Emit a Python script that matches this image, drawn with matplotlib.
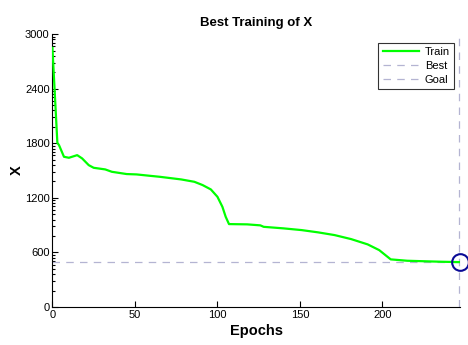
import numpy as np
import matplotlib
matplotlib.use("Agg")
import matplotlib.pyplot as plt
from matplotlib.ticker import FixedLocator

plt.rcParams['font.family'] = ['Liberation Sans', 'DejaVu Sans']

# training curve
epochs = [0, 3, 4, 7, 10, 15, 18, 22, 25, 32, 36, 45, 51, 59, 65, 78, 86, 91,
          96, 100, 103, 105, 107, 118, 126, 128, 140, 151, 161, 171, 181, 191,
          198, 205, 215, 228, 236, 247]
train = [2850, 1805, 1780, 1652, 1641, 1670, 1634, 1560, 1531, 1513, 1487,
         1462, 1458, 1443, 1432, 1403, 1377, 1341, 1293, 1212, 1102, 992, 912,
         909, 898, 882, 865, 846, 821, 791, 747, 689, 626, 524, 509, 502, 498, 494]
best_epoch = 247
best_value = 494
goal = 492
y_ticks = [0, 600, 1200, 1800, 2400, 3000]
x_ticks = [0, 50, 100, 150, 200]

fig = plt.figure(figsize=(4.68, 3.45), dpi=100)
ax = fig.add_axes([0.112, 0.110, 0.871, 0.791])

dash_col = '#b4b4d2'
ax.plot(epochs, train, color='#00ff00', lw=1.6, label='Train', zorder=3)
ax.axvline(best_epoch - 0.6, color=dash_col, lw=0.9, ls=(0, (6, 5)),
           label='Best', clip_on=False)
ax.axhline(goal, color=dash_col, lw=0.9, ls=(0, (6, 5)), label='Goal')
ax.plot([best_epoch], [best_value], 'o', ms=12, mfc='none', mec='#0a0a96',
        mew=1.5, clip_on=False, zorder=4)

ax.set_xlim(0, best_epoch)
ax.set_ylim(0, 3000)
ax.set_xticks(x_ticks)
ax.set_yticks(y_ticks)

# minor ticks spaced like a log decade inside each major step
step = y_ticks[1] - y_ticks[0]
minor = [b + step * np.log10(k) for b in y_ticks[:-1] for k in range(2, 10)]
ax.yaxis.set_minor_locator(FixedLocator(minor))

ax.spines['top'].set_visible(False)
ax.spines['right'].set_visible(False)
ax.tick_params(which='major', direction='in', length=4, width=0.8, labelsize=8, pad=2)
ax.tick_params(axis='y', which='minor', direction='in', length=2.5, width=0.8)

ax.set_title('Best Training of X', fontsize=9.5, fontweight='bold', pad=6)
ax.set_xlabel('Epochs', fontsize=10.5, fontweight='bold', labelpad=3)
ax.set_ylabel('X', fontsize=10.5, fontweight='bold', labelpad=1)

leg = ax.legend(loc='upper right', fontsize=8, frameon=True, fancybox=False,
                edgecolor='black', handlelength=3.3, borderaxespad=0.4,
                handletextpad=0.5, labelspacing=0.35,
                bbox_to_anchor=(0.997, 0.985))
leg.get_frame().set_linewidth(0.8)

fig.savefig('out.png', dpi=100)
